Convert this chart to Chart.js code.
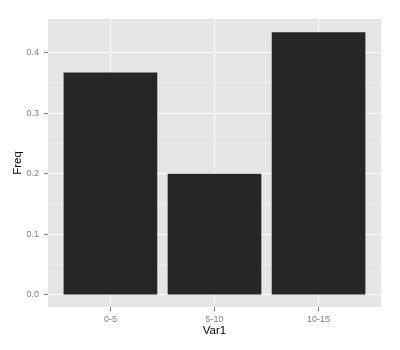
<!DOCTYPE html>
<html>
<head>
<meta charset="utf-8">
<script src="https://cdn.jsdelivr.net/npm/chart.js@4/dist/chart.umd.min.js"></script>
<style>
  html, body { margin: 0; padding: 0; background: #fff; }
  #wrap { width: 400px; height: 350px; }
</style>
</head>
<body>
<div id="wrap"><canvas id="freqChart"></canvas></div>
<script>
const categories = ['0-5', '5-10', '10-15'];
const freq = [0.3667, 0.2, 0.4333];
const yMajorTicks = [0, 0.1, 0.2, 0.3, 0.4];
const yMinorTicks = [0.05, 0.15, 0.25, 0.35, 0.45];

const isMajor = v => yMajorTicks.some(t => Math.abs(t - v) < 1e-9);

// grey panel behind the plot, like ggplot
const panelBg = {
    id: 'panelBg',
    beforeDraw(chart) {
        const { ctx, chartArea: { left, top, width, height } } = chart;
        ctx.save();
        ctx.fillStyle = '#E5E5E5';
        ctx.fillRect(left, top, width, height);
        ctx.restore();
    }
};

const fontFamily = '"Liberation Sans", Arial, sans-serif';

new Chart(document.getElementById('freqChart'), {
    type: 'bar',
    data: {
        datasets: [{
            data: freq.map((v, i) => ({ x: i, y: v })),
            backgroundColor: '#262626',
            borderWidth: 0,
            categoryPercentage: 1,
            barPercentage: 0.9
        }]
    },
    options: {
        responsive: true,
        maintainAspectRatio: false,
        animation: false,
        layout: { padding: { top: 19, right: 19, left: 0, bottom: 0 } },
        plugins: { legend: { display: false }, tooltip: { enabled: false } },
        scales: {
            x: {
                type: 'linear',
                offset: false,
                min: -0.6,
                max: categories.length - 1 + 0.6,
                afterBuildTicks: s => { s.ticks = categories.map((_, i) => ({ value: i })); },
                afterFit: s => { s.height = 43; },
                ticks: {
                    autoSkip: false,
                    maxRotation: 0,
                    padding: 3,
                    color: '#7F7F7F',
                    font: { family: fontFamily, size: 9 },
                    callback: v => categories[v]
                },
                grid: { offset: false, color: '#FFFFFF', lineWidth: 1, tickColor: '#7F7F7F', tickLength: 4 },
                border: { display: false },
                title: {
                    display: true,
                    text: 'Var1',
                    color: '#000000',
                    font: { family: fontFamily, size: 11.5 },
                    padding: { top: 0, bottom: 12 }
                }
            },
            y: {
                min: -0.0198,
                max: 0.455,
                afterBuildTicks: s => {
                    s.ticks = yMajorTicks.concat(yMinorTicks).sort((a, b) => a - b).map(v => ({ value: v }));
                },
                afterFit: s => { s.width = 48; },
                ticks: {
                    autoSkip: false,
                    padding: 5,
                    color: '#7F7F7F',
                    font: { family: fontFamily, size: 9 },
                    callback: v => isMajor(v) ? v.toFixed(1) : ''
                },
                grid: {
                    color: ctx => isMajor(ctx.tick.value) ? '#FFFFFF' : '#F2F2F2',
                    lineWidth: ctx => isMajor(ctx.tick.value) ? 1 : 0.6,
                    tickColor: ctx => isMajor(ctx.tick.value) ? '#7F7F7F' : 'rgba(0,0,0,0)',
                    tickLength: 4
                },
                border: { display: false },
                title: {
                    display: true,
                    text: 'Freq',
                    color: '#000000',
                    font: { family: fontFamily, size: 11.5 },
                    padding: { top: 11, bottom: 0 }
                }
            }
        }
    },
    plugins: [panelBg]
});
</script>
</body>
</html>
